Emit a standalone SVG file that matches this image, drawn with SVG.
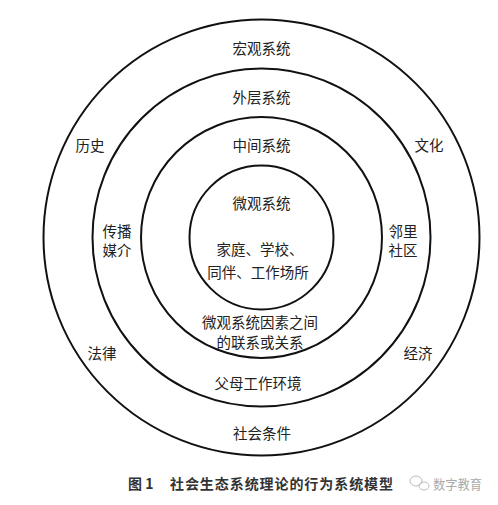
<svg xmlns="http://www.w3.org/2000/svg" width="498" height="505" viewBox="0 0 498 505">
<style>
.ring{fill:none;stroke:#111;stroke-width:2}
.t{font-family:"Noto Sans CJK SC","Noto Sans",sans-serif;font-size:14.5px;fill:#222;text-anchor:middle;dominant-baseline:central}
.cap{font-family:"Noto Sans CJK SC","Noto Sans",sans-serif;font-size:14px;font-weight:bold;fill:#333;dominant-baseline:central}
.wm{font-family:"Noto Sans CJK SC","Noto Sans",sans-serif;font-size:13px;fill:#aaa;dominant-baseline:central}
</style>
<rect width="498" height="505" fill="#fff"/>
<g id="macro">
<circle class="ring" cx="261.5" cy="237.5" r="218"/>
<text class="t" x="261.5" y="47">宏观系统</text>
<text class="t" x="90" y="144">历史</text>
<text class="t" x="429" y="144">文化</text>
<text class="t" x="102" y="352">法律</text>
<text class="t" x="418" y="352">经济</text>
<text class="t" x="262" y="432">社会条件</text>
</g>
<g id="exo">
<circle class="ring" cx="261.5" cy="237.5" r="169"/>
<text class="t" x="261.5" y="96">外层系统</text>
<text class="t" x="117" y="230">传播</text>
<text class="t" x="117" y="249">媒介</text>
<text class="t" x="403" y="230">邻里</text>
<text class="t" x="403" y="249">社区</text>
<text class="t" x="258" y="382">父母工作环境</text>
</g>
<g id="meso">
<circle class="ring" cx="261.5" cy="237.5" r="120.5"/>
<text class="t" x="261.5" y="144">中间系统</text>
<text class="t" x="260" y="321">微观系统因素之间</text>
<text class="t" x="260" y="341">的联系或关系</text>
</g>
<g id="micro">
<circle class="ring" cx="261.5" cy="237.5" r="72"/>
<text class="t" x="261.5" y="202">微观系统</text>
<text class="t" x="260" y="248">家庭、学校、</text>
<text class="t" x="258" y="271">同伴、工作场所</text>
</g>
<g id="connectors"></g>
<g id="caption">
<text class="cap" x="128" y="483">图 1</text>
<text class="cap" x="170" y="483" textLength="223" lengthAdjust="spacing">社会生态系统理论的行为系统模型</text>
<g fill="none" stroke="#bbb" stroke-width="1">
<ellipse cx="416" cy="481" rx="6" ry="5"/>
<ellipse cx="424" cy="486" rx="5" ry="4"/>
</g>
<text class="wm" x="433" y="483" textLength="49" lengthAdjust="spacingAndGlyphs">数字教育</text>
</g>
</svg>
